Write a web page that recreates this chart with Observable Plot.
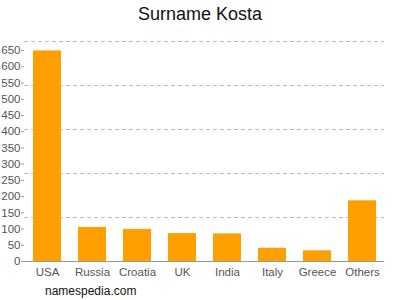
<!DOCTYPE html>
<html>
<head>
<meta charset="utf-8">
<script src="https://cdn.jsdelivr.net/npm/d3@7"></script>
<script src="https://cdn.jsdelivr.net/npm/@observablehq/plot@0.6"></script>
<style>
  html, body { margin: 0; padding: 0; background: #fff; }
  #wrap { position: relative; width: 400px; height: 300px; overflow: hidden; font-family: "Liberation Sans", Arial, sans-serif; }
  #title { position: absolute; left: 0; top: 4px; width: 400px; text-align: center; font-size: 18px; color: #111; }
  #caption { position: absolute; left: 45px; top: 284px; font-size: 12px; color: #111; }
  #chart { position: absolute; left: 0; top: 0; }
</style>
</head>
<body>
<div id="wrap">
  <div id="chart"></div>
  <div id="title">Surname Kosta</div>
  <div id="caption">namespedia.com</div>
</div>
<script>
const countries = ["USA", "Russia", "Croatia", "UK", "India", "Italy", "Greece", "Others"];
const counts = [649, 105, 99, 86, 85, 41, 33, 187];
const yTicks = [0, 50, 100, 150, 200, 250, 300, 350, 400, 450, 500, 550, 600, 650];
const yMax = 678;
const gridValues = [135.6, 271.2, 406.8, 542.4, 678];

const data = countries.map((c, i) => ({country: c, count: counts[i]}));

const chart = Plot.plot({
  width: 400,
  height: 300,
  marginLeft: 24,
  marginRight: 16,
  marginTop: 41,
  marginBottom: 39,
  style: {fontFamily: "'Liberation Sans', Arial, sans-serif", fontSize: "11px", background: "transparent"},
  x: {domain: countries, paddingInner: 0.38, paddingOuter: 0.19, label: null, tickSize: 0, tickPadding: 4},
  y: {domain: [0, yMax], label: null},
  marks: [
    Plot.ruleY(gridValues, {stroke: "#bbb", strokeDasharray: "4,3", strokeWidth: 1}),
    Plot.barY(data, {x: "country", y: "count", fill: "#FFA000"}),
    Plot.axisY({ticks: yTicks, tickSize: 3, tickPadding: 1, stroke: "#999", color: "#555", fontSize: 11.5, label: null}),
    Plot.axisX({tickSize: 0, tickPadding: 6, color: "#555", fontSize: 11.5, label: null}),
    Plot.ruleX([0], {x: () => null, frameAnchor: "left", stroke: "#999"}),
    Plot.ruleY([0], {stroke: "#999"})
  ]
});
document.getElementById("chart").appendChild(chart);
</script>
</body>
</html>
